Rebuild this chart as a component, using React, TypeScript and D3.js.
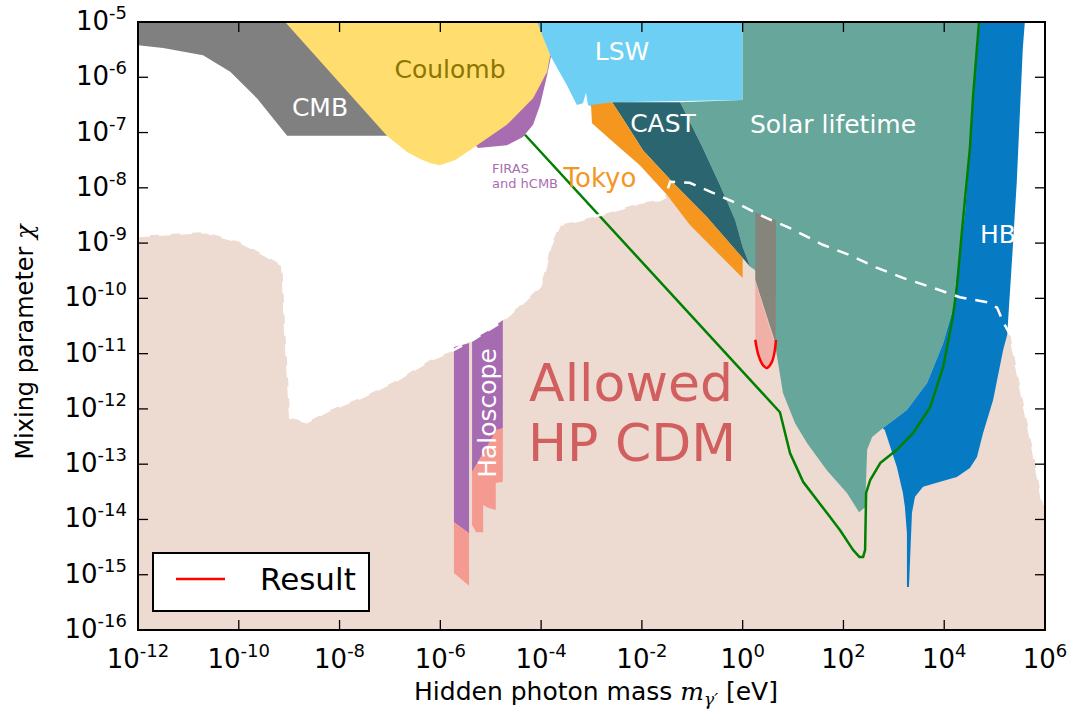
import React from "react";
import * as d3 from "d3";

// every point: [log10(mass / eV), log10(chi)]
type P = [number, number];

const xTickExps = [-12, -10, -8, -6, -4, -2, 0, 2, 4, 6];
const yTickExps = [-5, -6, -7, -8, -9, -10, -11, -12, -13, -14, -15, -16];

const allowedBoundary: P[] = [
  [-12, -8.87], [-11.46, -8.84], [-10.67, -8.8], [-9.98, -8.98], [-9.52, -9.2], [-9.14, -9.4],
  [-9.12, -9.67], [-9.08, -10.57], [-9.02, -11.48], [-8.98, -12.16], [-8.65, -12.24], [-8.19, -12.02],
  [-7.53, -11.78], [-6.86, -11.48], [-6.21, -11.12], [-5.81, -10.97], [-5.35, -10.75], [-4.82, -10.45],
  [-4.36, -10.08], [-4.02, -9.79], [-3.92, -9.49], [-3.82, -9.07], [-3.63, -8.67], [-3.37, -8.62],
  [-2.69, -8.46], [-2.04, -8.27], [-1.64, -8.22], [-1.54, -8.17], [-1.44, -7.89], [-1.05, -7.91],
  [-0.59, -8.09], [-0.05, -8.31], [0.48, -8.55], [0.94, -8.73], [1.59, -9.03], [2.13, -9.22],
  [2.67, -9.45], [3.18, -9.63], [3.78, -9.81], [4.31, -9.98], [4.85, -10.07], [5.05, -10.17],
  [5.17, -10.43], [5.31, -10.66], [5.56, -11.84], [5.76, -12.74], [5.94, -13.65], [6, -13.83],
];

const cmbRegion: P[] = [
  [-12, -5], [-8.79, -5], [-6.96, -7.06], [-9.04, -7.06], [-9.32, -6.74], [-9.64, -6.38],
  [-10.17, -5.9], [-10.71, -5.6], [-11.5, -5.47], [-12, -5.42],
];

const firasRegion: P[] = [
  [-5.25, -7.28], [-4.68, -7.23], [-4.36, -7.08], [-4.16, -6.86], [-4.02, -6.5], [-3.88, -5.96],
  [-3.8, -5.6], [-3.92, -5.6], [-4.22, -6.32], [-5.41, -7.13],
];

const coulombRegion: P[] = [
  [-9.08, -5], [-4.06, -5], [-3.96, -5.24], [-3.82, -5.6], [-3.88, -5.9], [-4.16, -6.38],
  [-4.68, -6.86], [-5.35, -7.28], [-5.71, -7.5], [-6.01, -7.59], [-6.21, -7.55], [-6.4, -7.48],
  [-6.66, -7.35], [-7.06, -7.06],
];

const lswRegion: P[] = [
  [-4.08, -5], [0, -5], [0, -6.41], [-2.57, -6.45], [-2.69, -6.47], [-2.97, -6.54], [-3.07, -6.5],
  [-3.11, -6.28], [-3.17, -6.47], [-3.29, -6.5], [-3.49, -6.14], [-3.68, -5.83], [-3.82, -5.6],
];

const solarRegion: P[] = [
  [0, -5], [4.67, -5], [4.57, -6.38], [4.51, -7.28], [4.41, -8.49], [4.31, -9.09], [4.17, -10.21],
  [3.98, -10.81], [3.66, -11.53], [3.26, -12.02], [2.78, -12.35], [2.57, -12.51], [2.47, -12.74],
  [2.43, -13.78], [2.31, -13.87], [2.07, -13.52], [1.67, -13.11], [1.28, -12.62], [1.04, -12.26],
  [0.8, -11.71], [0.66, -10.93], [0.66, -10.03], [0.25, -9.49], [0.15, -9.43], [0, -9.07],
  [-0.15, -8.58], [-0.45, -7.95], [-0.79, -7.28], [-1.24, -6.45], [0, -6.41],
];

const castRegion: P[] = [
  [-2.59, -6.45], [-1.24, -6.45], [-0.79, -7.28], [-0.45, -7.95], [-0.15, -8.58], [0, -9.07],
  [0.15, -9.43], [0, -9.27], [-0.71, -8.53], [-1.38, -7.91], [-1.98, -7.32], [-2.3, -6.86],
];

const tokyoRegion: P[] = [
  [-3.01, -6.5], [-2.59, -6.45], [-2.3, -6.86], [-1.98, -7.32], [-1.38, -7.91], [-0.71, -8.53],
  [0, -9.27], [0, -9.63], [-0.45, -9.22], [-1.05, -8.67], [-1.5, -8.13], [-2.04, -7.59],
  [-2.57, -7.17], [-2.99, -6.83],
];

const hbRegion: P[] = [
  [4.67, -5], [5.6, -5], [5.56, -5.47], [5.5, -6.68], [5.44, -7.89], [5.36, -9.09], [5.25, -10.66],
  [5.17, -10.93], [4.97, -11.84], [4.77, -12.44], [4.65, -12.87], [4.51, -13.07], [4.25, -13.23],
  [3.92, -13.32], [3.58, -13.41], [3.42, -13.59], [3.36, -13.88], [3.3, -15.22], [3.26, -15.22],
  [3.26, -14.25], [3.22, -13.78], [3.18, -13.52], [3.06, -13.05], [2.82, -12.38], [2.78, -12.35],
  [3.26, -12.02], [3.66, -11.53], [3.98, -10.81], [4.17, -10.21], [4.31, -9.09], [4.41, -8.49],
  [4.51, -7.28], [4.57, -6.38],
];

const haloPurple1: P[] = [[-5.73, -10.88], [-5.43, -10.81], [-5.43, -14.25], [-5.73, -14.05]];
const haloPink1: P[] = [[-5.73, -14.05], [-5.43, -14.25], [-5.43, -15.2], [-5.73, -14.97]];
const haloPurple2: P[] = [
  [-5.37, -10.75], [-5.01, -10.57], [-4.76, -10.39], [-4.76, -12.35], [-4.88, -12.38], [-5.37, -13.14],
];
const haloPink2: P[] = [
  [-5.37, -13.14], [-4.88, -12.38], [-4.76, -12.35], [-4.76, -13.32], [-4.9, -13.34], [-4.9, -13.83],
  [-5.05, -13.79], [-5.15, -13.74], [-5.15, -14.23], [-5.29, -14.23], [-5.37, -14.1],
];

const grayBar: P[] = [[0.25, -8.44], [0.66, -8.58], [0.66, -10.84], [0.25, -9.67]];

const resultCurve: P[] = [
  [0.25, -10.75], [0.31, -11.02], [0.39, -11.19], [0.48, -11.26], [0.58, -11.15], [0.64, -10.93], [0.66, -10.75],
];

const greenLimit: P[] = [
  [-4.32, -7.04], [0.74, -12.06], [0.94, -12.8], [1.2, -13.32], [1.67, -13.88], [1.93, -14.19],
  [2.19, -14.55], [2.32, -14.68], [2.39, -14.68], [2.43, -14.55], [2.45, -13.52], [2.53, -13.29],
  [2.73, -12.98], [3.06, -12.74], [3.38, -12.44], [3.72, -11.97], [3.98, -11.24], [4.17, -10.34],
  [4.25, -9.81], [4.35, -8.8], [4.51, -7.28], [4.57, -6.38], [4.69, -5],
];

const C = {
  beige: "#eddad0",
  cmb: "#808080",
  coulomb: "#ffdd6f",
  coulombText: "#8c7500",
  firas: "#a86db0",
  lsw: "#6dcff3",
  cast: "#2b6670",
  solar: "#67a69a",
  tokyo: "#f5961f",
  hb: "#067bc4",
  haloPurple: "#a66bb0",
  haloPink: "#f49a90",
  grayBar: "#86857c",
  resultPink: "#f1b0a7",
  green: "#008000",
  allowed: "#d15f5f",
};

const FONT = "DejaVu Sans, Liberation Sans, sans-serif";

export default function App() {
  const W = 1068, H = 715;
  const L = 138, R = 1045, T = 22, B = 630;
  const x = d3.scaleLog().domain([1e-12, 1e6]).range([L, R]);
  const y = d3.scaleLog().domain([1e-16, 1e-5]).range([B, T]);
  const line = d3.line<P>().x((d) => x(10 ** d[0])).y((d) => y(10 ** d[1]));
  const poly = (pts: P[]) => (line(pts) || "") + "Z";
  const allowedPoly: P[] = [...allowedBoundary, [6, -16], [-12, -16]];
  const resultPinkPoly: P[] = [[0.25, -9.67], [0.66, -10.84], ...resultCurve.slice().reverse()];
  const smooth = d3.line<P>().x((d) => x(10 ** d[0])).y((d) => y(10 ** d[1])).curve(d3.curveCatmullRom);

  return (
    <svg width={W} height={H} style={{ position: "absolute", left: 0, top: 0, background: "#fff" }} fontFamily={FONT}>
      <defs>
        <clipPath id="plotclip">
          <rect x={L} y={T} width={R - L} height={B - T} />
        </clipPath>
      </defs>
      <g clipPath="url(#plotclip)">
        <rect x={L} y={T} width={R - L} height={B - T} fill="#fff" />
        <path d={poly(allowedPoly)} fill={C.beige} />
        <path d={poly(cmbRegion)} fill={C.cmb} />
        <path d={poly(firasRegion)} fill={C.firas} />
        <path d={poly(coulombRegion)} fill={C.coulomb} />
        <path d={poly(lswRegion)} fill={C.lsw} />
        <path d={poly(solarRegion)} fill={C.solar} />
        <path d={poly(castRegion)} fill={C.cast} />
        <path d={poly(tokyoRegion)} fill={C.tokyo} />
        <path d={poly(hbRegion)} fill={C.hb} />
        <path d={poly(haloPurple1)} fill={C.haloPurple} />
        <path d={poly(haloPink1)} fill={C.haloPink} />
        <path d={poly(haloPurple2)} fill={C.haloPurple} />
        <path d={poly(haloPink2)} fill={C.haloPink} />
        <path d={poly(grayBar)} fill={C.grayBar} />
        <path d={(smooth(resultPinkPoly) || "") + "Z"} fill={C.resultPink} />
        <path d={line(greenLimit) || ""} fill="none" stroke={C.green} strokeWidth={2.5} strokeLinejoin="round" />
        <path d={smooth(resultCurve) || ""} fill="none" stroke="red" strokeWidth={2.5} />
        <path d={line(allowedBoundary) || ""} fill="none" stroke="#fff" strokeWidth={2.5} strokeDasharray="12,9" />
        {/* region labels */}
        <text x={320} y={116} fontSize={25} fill="#fff" textAnchor="middle">CMB</text>
        <text x={450} y={78} fontSize={25} fill={C.coulombText} textAnchor="middle">Coulomb</text>
        <text x={622} y={60} fontSize={25} fill="#fff" textAnchor="middle">LSW</text>
        <text x={663} y={132} fontSize={25} fill="#fff" textAnchor="middle">CAST</text>
        <text x={833} y={133} fontSize={25} fill="#fff" textAnchor="middle">Solar lifetime</text>
        <text x={600} y={187} fontSize={26} fill={C.tokyo} textAnchor="middle">Tokyo</text>
        <text x={492} y={173} fontSize={13} fill={C.firas}>FIRAS</text>
        <text x={492} y={188} fontSize={13} fill={C.firas}>and hCMB</text>
        <text x={980} y={243} fontSize={25} fill="#fff">HB</text>
        <text transform="translate(496,413) rotate(-90)" fontSize={25} fill="#fff" textAnchor="middle">Haloscope</text>
        <text x={631} y={401} fontSize={52} fill={C.allowed} textAnchor="middle">Allowed</text>
        <text x={632} y={461} fontSize={52} fill={C.allowed} textAnchor="middle">HP CDM</text>
      </g>

      {/* axes frame & ticks */}
      <rect x={L} y={T} width={R - L} height={B - T} fill="none" stroke="#000" strokeWidth={2} />
      {xTickExps.map((e) => {
        const px = x(10 ** e);
        return (
          <g key={"xt" + e}>
            <line x1={px} x2={px} y1={B} y2={B - 10} stroke="#000" strokeWidth={1.3} />
            <line x1={px} x2={px} y1={T} y2={T + 10} stroke="#000" strokeWidth={1.3} />
            <text x={px} y={668} fontSize={26} textAnchor="middle" fill="#000">
              10<tspan fontSize={18} dy={-11}>{String(e)}</tspan>
            </text>
          </g>
        );
      })}
      {yTickExps.map((e) => {
        const py = y(10 ** e);
        return (
          <g key={"yt" + e}>
            <line x1={L} x2={L + 10} y1={py} y2={py} stroke="#000" strokeWidth={1.3} />
            <line x1={R} x2={R - 10} y1={py} y2={py} stroke="#000" strokeWidth={1.3} />
            <text x={127} y={py + 8} fontSize={26} textAnchor="end" fill="#000">
              10<tspan fontSize={18} dy={-11}>{String(e)}</tspan>
            </text>
          </g>
        );
      })}
      <text x={596} y={700} fontSize={25} textAnchor="middle" fill="#000">
        Hidden photon mass{" "}
        <tspan fontFamily="DejaVu Serif" fontStyle="italic">m</tspan>
        <tspan fontFamily="DejaVu Serif" fontStyle="italic" fontSize={17} dy={5}>γ′</tspan>
        <tspan dy={-5}> [eV]</tspan>
      </text>
      <text transform="translate(33,342) rotate(-90)" fontSize={24} textAnchor="middle" fill="#000">
        Mixing parameter <tspan fontFamily="DejaVu Serif" fontStyle="italic">χ</tspan>
      </text>

      {/* legend */}
      <rect x={153} y={553} width={216} height={58} fill="#fff" stroke="#000" strokeWidth={2} />
      <line x1={176} x2={225} y1={579} y2={579} stroke="red" strokeWidth={2.5} />
      <text x={260} y={590} fontSize={31} fill="#000">Result</text>
    </svg>
  );
}
